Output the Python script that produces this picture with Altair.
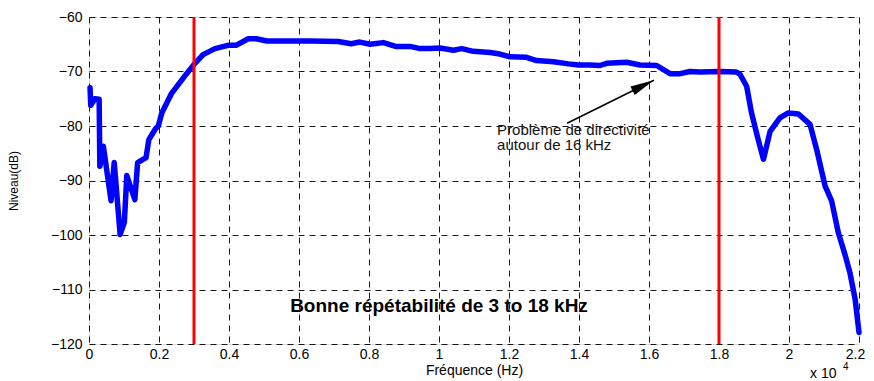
import altair as alt
import pandas as pd

# Frequency in units of 10^4 Hz, level in dB
freq = [0.003, 0.005, 0.017, 0.029, 0.031, 0.041, 0.063, 0.072, 0.089, 0.101,
        0.108, 0.131, 0.139, 0.163, 0.171, 0.19, 0.198, 0.208, 0.236, 0.274,
        0.30, 0.326, 0.36, 0.397, 0.42, 0.455, 0.478, 0.508, 0.55, 0.63,
        0.712, 0.749, 0.774, 0.803, 0.841, 0.876, 0.917, 0.946, 0.974, 1.003,
        1.041, 1.065, 1.098, 1.146, 1.174, 1.203, 1.25, 1.279, 1.327, 1.37,
        1.398, 1.431, 1.46, 1.479, 1.536, 1.574, 1.622, 1.66, 1.689, 1.717,
        1.746, 1.803, 1.85, 1.86, 1.879, 1.893, 1.912, 1.927, 1.936, 1.946,
        1.974, 1.998, 2.027, 2.06, 2.079, 2.103, 2.122, 2.141, 2.16, 2.174,
        2.189, 2.2]
level = [-73.0, -76.2, -75.0, -75.1, -87.4, -83.7, -93.7, -86.7, -99.9, -97.7,
         -89.1, -93.5, -86.7, -85.8, -82.5, -80.5, -80.0, -77.6, -74.0, -70.8,
         -68.7, -66.9, -65.8, -65.2, -65.2, -64.0, -64.0, -64.4, -64.4, -64.4,
         -64.5, -64.9, -64.6, -65.0, -64.7, -65.4, -65.4, -65.8, -65.8, -65.7,
         -66.1, -65.8, -66.3, -66.5, -66.8, -67.3, -67.4, -68.0, -68.2, -68.6,
         -68.8, -68.8, -68.9, -68.5, -68.3, -68.8, -68.9, -70.4, -70.4, -70.0,
         -70.1, -70.0, -70.1, -70.5, -72.7, -77.6, -82.5, -86.1, -83.7, -81.0,
         -78.5, -77.6, -77.8, -79.7, -84.3, -91.0, -93.8, -99.6, -103.6, -106.9,
         -111.8, -117.9]

vlines = [0.3, 1.8]
xticks = [0, 0.2, 0.4, 0.6, 0.8, 1, 1.2, 1.4, 1.6, 1.8, 2, 2.2]
yticks = [-120, -110, -100, -90, -80, -70, -60]

arrow_start = [1.366, -79.5]
arrow_tip = [1.614, -71.6]

note_lines = ["Problème de directivité", "autour de 16 kHz"]
note_x = [1.166, 1.166]
note_y = [-81.6, -84.4]

FONT = "Liberation Sans"

df = pd.DataFrame({"f": freq, "level": level})
x_scale = alt.Scale(domain=[0, 2.2], nice=False, zero=False)
y_scale = alt.Scale(domain=[-120, -60], nice=False, zero=False)

x_axis = alt.Axis(values=xticks, format="~g", title="Fréquence (Hz)", grid=True,
                  gridDash=[6, 5], gridColor="black", gridOpacity=0.9, gridWidth=1,
                  ticks=False, domain=False, labelFont=FONT, labelFontSize=14,
                  labelColor="black", labelPadding=3, labelFlush=False,
                  labelOffset={"condition": {"test": "datum.value >= 2.19", "value": -4},
                               "value": 0},
                  titleFont=FONT, titleFontSize=14, titleFontWeight="normal",
                  titleColor="black", titlePadding=2)
y_axis = alt.Axis(values=yticks, title="Niveau(dB)", grid=True,
                  gridDash=[6, 5], gridColor="black", gridOpacity=0.9, gridWidth=1,
                  ticks=False, domain=False, labelFont=FONT, labelFontSize=14,
                  labelColor="black", labelPadding=7, labelFlush=False,
                  titleFont=FONT, titleFontSize=12, titleFontWeight="normal",
                  titleColor="black", titlePadding=30)

line = alt.Chart(df).mark_line(color="#0000FF", strokeWidth=5.5, strokeJoin="round",
                               strokeCap="round").encode(
    x=alt.X("f:Q", scale=x_scale, axis=x_axis),
    y=alt.Y("level:Q", scale=y_scale, axis=y_axis),
)

rules = alt.Chart(pd.DataFrame({"f": vlines})).mark_rule(
    color="#FF0000", strokeWidth=3).encode(x=alt.X("f:Q", scale=x_scale))

arrow_df = pd.DataFrame({"x": [arrow_start[0]], "y": [arrow_start[1]],
                         "x2": [arrow_tip[0]], "y2": [arrow_tip[1]]})
shaft = alt.Chart(arrow_df).mark_rule(color="black", strokeWidth=1.5).encode(
    x=alt.X("x:Q", scale=x_scale), y=alt.Y("y:Q", scale=y_scale),
    x2="x2:Q", y2="y2:Q")

head = alt.Chart(pd.DataFrame({"x": [arrow_tip[0]], "y": [arrow_tip[1]]})).mark_point(
    shape="M0,0L0.36,1.8L-0.36,1.8Z", filled=True, color="black", opacity=1,
    size=700, angle=63.5).encode(
    x=alt.X("x:Q", scale=x_scale), y=alt.Y("y:Q", scale=y_scale))

note = alt.Chart(pd.DataFrame({"x": note_x, "y": note_y, "t": note_lines})).mark_text(
    align="left", baseline="alphabetic", font=FONT, fontSize=15, color="#111111").encode(
    x=alt.X("x:Q", scale=x_scale), y=alt.Y("y:Q", scale=y_scale), text="t:N")

bold = alt.Chart(pd.DataFrame({"x": [1.0], "y": [-114.2],
                               "t": ["Bonne répétabilité de 3 to 18 kHz"]})).mark_text(
    align="center", baseline="alphabetic", font=FONT, fontSize=19,
    fontWeight="bold", color="black").encode(
    x=alt.X("x:Q", scale=x_scale), y=alt.Y("y:Q", scale=y_scale), text="t:N")

exp_base = alt.Chart(pd.DataFrame({"x": [2.06], "y": [-126.3], "t": ["x 10"]})).mark_text(
    align="left", baseline="alphabetic", font=FONT, fontSize=14, color="black").encode(
    x=alt.X("x:Q", scale=x_scale), y=alt.Y("y:Q", scale=y_scale), text="t:N")
exp_sup = alt.Chart(pd.DataFrame({"x": [2.154], "y": [-124.7], "t": ["4"]})).mark_text(
    align="left", baseline="alphabetic", font=FONT, fontSize=10, color="black").encode(
    x=alt.X("x:Q", scale=x_scale), y=alt.Y("y:Q", scale=y_scale), text="t:N")

chart = alt.layer(line, rules, shaft, head, note, bold, exp_base, exp_sup).properties(
    width=770, height=327,
    autosize=alt.AutoSizeParams(type="none"),
    padding={"left": 81, "top": 9, "right": 7, "bottom": 50},
).configure_view(stroke="black", strokeWidth=1.5).configure(background="white")

chart.save("out.html", embed_options={"renderer": "svg", "actions": False})
